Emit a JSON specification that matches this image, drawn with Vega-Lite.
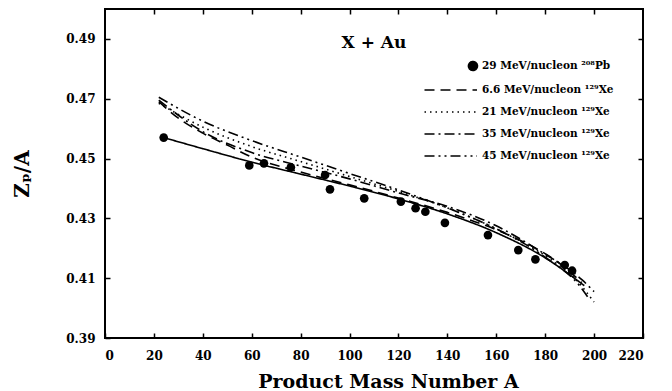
{
  "$schema": "https://vega.github.io/schema/vega-lite/v6.json",
  "width": 538,
  "height": 329,
  "autosize": {"type": "none"},
  "padding": {"left": 105, "top": 9, "right": 29, "bottom": 53},
  "background": "white",
  "title": {"text": "X + Au", "anchor": "middle", "orient": "top", "frame": "group", "baseline": "middle", "offset": -28, "dy": 24, "font": "DejaVu Serif", "fontSize": 17, "fontWeight": "bold", "color": "black"},
  "config": {
    "view": {"stroke": "black", "strokeWidth": 2},
    "axis": {"labelFont": "DejaVu Serif", "labelFontWeight": "bold", "labelFontSize": 12, "labelColor": "black", "titleFont": "DejaVu Serif", "titleFontWeight": "bold", "titleColor": "black", "domain": false, "grid": false, "ticks": true, "tickColor": "black", "tickWidth": 1.5, "tickSize": 5, "offset": -5}
  },
  "datasets": {
    "curves": [
      {"series": "29 MeV/nucleon ²⁰⁸Pb", "A": 24, "Z": 0.457},
      {"series": "29 MeV/nucleon ²⁰⁸Pb", "A": 40, "Z": 0.4533},
      {"series": "29 MeV/nucleon ²⁰⁸Pb", "A": 60, "Z": 0.4488},
      {"series": "29 MeV/nucleon ²⁰⁸Pb", "A": 80, "Z": 0.4448},
      {"series": "29 MeV/nucleon ²⁰⁸Pb", "A": 100, "Z": 0.4408},
      {"series": "29 MeV/nucleon ²⁰⁸Pb", "A": 120, "Z": 0.4365},
      {"series": "29 MeV/nucleon ²⁰⁸Pb", "A": 140, "Z": 0.4315},
      {"series": "29 MeV/nucleon ²⁰⁸Pb", "A": 160, "Z": 0.4252},
      {"series": "29 MeV/nucleon ²⁰⁸Pb", "A": 180, "Z": 0.4168},
      {"series": "29 MeV/nucleon ²⁰⁸Pb", "A": 196, "Z": 0.4075},
      {"series": "6.6 MeV/nucleon ¹²⁹Xe", "A": 22, "Z": 0.469},
      {"series": "6.6 MeV/nucleon ¹²⁹Xe", "A": 30, "Z": 0.4635},
      {"series": "6.6 MeV/nucleon ¹²⁹Xe", "A": 40, "Z": 0.4585},
      {"series": "6.6 MeV/nucleon ¹²⁹Xe", "A": 50, "Z": 0.4545},
      {"series": "6.6 MeV/nucleon ¹²⁹Xe", "A": 60, "Z": 0.4505},
      {"series": "6.6 MeV/nucleon ¹²⁹Xe", "A": 80, "Z": 0.4455},
      {"series": "6.6 MeV/nucleon ¹²⁹Xe", "A": 100, "Z": 0.4412},
      {"series": "6.6 MeV/nucleon ¹²⁹Xe", "A": 120, "Z": 0.4368},
      {"series": "6.6 MeV/nucleon ¹²⁹Xe", "A": 140, "Z": 0.432},
      {"series": "6.6 MeV/nucleon ¹²⁹Xe", "A": 160, "Z": 0.4262},
      {"series": "6.6 MeV/nucleon ¹²⁹Xe", "A": 175, "Z": 0.4205},
      {"series": "6.6 MeV/nucleon ¹²⁹Xe", "A": 185, "Z": 0.4155},
      {"series": "6.6 MeV/nucleon ¹²⁹Xe", "A": 195, "Z": 0.4085},
      {"series": "21 MeV/nucleon ¹²⁹Xe", "A": 22, "Z": 0.4685},
      {"series": "21 MeV/nucleon ¹²⁹Xe", "A": 40, "Z": 0.4605},
      {"series": "21 MeV/nucleon ¹²⁹Xe", "A": 60, "Z": 0.454},
      {"series": "21 MeV/nucleon ¹²⁹Xe", "A": 80, "Z": 0.449},
      {"series": "21 MeV/nucleon ¹²⁹Xe", "A": 100, "Z": 0.444},
      {"series": "21 MeV/nucleon ¹²⁹Xe", "A": 120, "Z": 0.439},
      {"series": "21 MeV/nucleon ¹²⁹Xe", "A": 140, "Z": 0.4335},
      {"series": "21 MeV/nucleon ¹²⁹Xe", "A": 160, "Z": 0.4265},
      {"series": "21 MeV/nucleon ¹²⁹Xe", "A": 180, "Z": 0.4175},
      {"series": "21 MeV/nucleon ¹²⁹Xe", "A": 192, "Z": 0.41},
      {"series": "21 MeV/nucleon ¹²⁹Xe", "A": 200, "Z": 0.402},
      {"series": "35 MeV/nucleon ¹²⁹Xe", "A": 22, "Z": 0.4695},
      {"series": "35 MeV/nucleon ¹²⁹Xe", "A": 40, "Z": 0.459},
      {"series": "35 MeV/nucleon ¹²⁹Xe", "A": 60, "Z": 0.452},
      {"series": "35 MeV/nucleon ¹²⁹Xe", "A": 80, "Z": 0.4475},
      {"series": "35 MeV/nucleon ¹²⁹Xe", "A": 100, "Z": 0.4432},
      {"series": "35 MeV/nucleon ¹²⁹Xe", "A": 120, "Z": 0.4385},
      {"series": "35 MeV/nucleon ¹²⁹Xe", "A": 140, "Z": 0.434},
      {"series": "35 MeV/nucleon ¹²⁹Xe", "A": 160, "Z": 0.4275},
      {"series": "35 MeV/nucleon ¹²⁹Xe", "A": 178, "Z": 0.419},
      {"series": "35 MeV/nucleon ¹²⁹Xe", "A": 195, "Z": 0.4095},
      {"series": "35 MeV/nucleon ¹²⁹Xe", "A": 200, "Z": 0.4055},
      {"series": "45 MeV/nucleon ¹²⁹Xe", "A": 22, "Z": 0.4705},
      {"series": "45 MeV/nucleon ¹²⁹Xe", "A": 40, "Z": 0.4625},
      {"series": "45 MeV/nucleon ¹²⁹Xe", "A": 60, "Z": 0.456},
      {"series": "45 MeV/nucleon ¹²⁹Xe", "A": 80, "Z": 0.4505},
      {"series": "45 MeV/nucleon ¹²⁹Xe", "A": 100, "Z": 0.445},
      {"series": "45 MeV/nucleon ¹²⁹Xe", "A": 120, "Z": 0.4395},
      {"series": "45 MeV/nucleon ¹²⁹Xe", "A": 140, "Z": 0.4335},
      {"series": "45 MeV/nucleon ¹²⁹Xe", "A": 160, "Z": 0.4265},
      {"series": "45 MeV/nucleon ¹²⁹Xe", "A": 180, "Z": 0.417},
      {"series": "45 MeV/nucleon ¹²⁹Xe", "A": 195, "Z": 0.4065},
      {"series": "45 MeV/nucleon ¹²⁹Xe", "A": 198, "Z": 0.403}
    ],
    "points": [
      {"A": 24, "Z": 0.457},
      {"A": 59, "Z": 0.4477},
      {"A": 65, "Z": 0.4484},
      {"A": 76, "Z": 0.4471},
      {"A": 90, "Z": 0.4445},
      {"A": 92, "Z": 0.4397},
      {"A": 106, "Z": 0.4367},
      {"A": 121, "Z": 0.4356},
      {"A": 127, "Z": 0.4334},
      {"A": 131, "Z": 0.4322},
      {"A": 139, "Z": 0.4285},
      {"A": 156.6, "Z": 0.4244},
      {"A": 169, "Z": 0.4194},
      {"A": 176, "Z": 0.4163},
      {"A": 188, "Z": 0.4144},
      {"A": 191, "Z": 0.4125}
    ]
  },
  "layer": [
    {
      "data": {"name": "curves"},
      "mark": {"type": "line", "color": "black", "strokeWidth": 1.6, "interpolate": "monotone"},
      "encoding": {
        "x": {"field": "A", "type": "quantitative", "scale": {"domain": [0, 220], "nice": false, "zero": false},
              "axis": {"orient": "bottom", "values": [0,20,40,60,80,100,120,140,160,180,200,220], "labelPadding": 12, "title": "Product Mass Number A", "titleFontSize": 19, "titlePadding": 11, "titleX": 283}},
        "y": {"field": "Z", "type": "quantitative", "scale": {"domain": [0.39, 0.50], "nice": false, "zero": false},
              "axis": {"orient": "left", "values": [0.39,0.41,0.43,0.45,0.47,0.49], "format": ".2f", "labelPadding": 10, "title": "Zₚ/A", "titleFontSize": 20, "titlePadding": 33}},
        "strokeDash": {"field": "series", "type": "nominal",
          "scale": {"domain": ["29 MeV/nucleon ²⁰⁸Pb", "6.6 MeV/nucleon ¹²⁹Xe", "21 MeV/nucleon ¹²⁹Xe", "35 MeV/nucleon ¹²⁹Xe", "45 MeV/nucleon ¹²⁹Xe"],
                    "range": [[1,0],[10,6],[1.5,4],[10,4,2,4],[10,4,2,4,2,4]]},
          "legend": {"orient": "none", "legendX": 341, "legendY": 41, "title": null, "symbolSize": 900, "symbolStrokeWidth": 1.6, "symbolStrokeColor": "black",
                     "labelFont": "DejaVu Serif", "labelFontWeight": "bold", "labelFontSize": 10.5, "labelColor": "black", "rowPadding": -4.5, "labelOffset": 4,
                     "encode": {"symbols": {"update": {
                        "shape": [{"test": "datum.value === '29 MeV/nucleon ²⁰⁸Pb'", "value": "M1.03,0A0.3,0.3 0 1,1 0.43,0A0.3,0.3 0 1,1 1.03,0Z"}, {"value": "M-2.5,0H1"}],
                        "fill": [{"test": "datum.value === '29 MeV/nucleon ²⁰⁸Pb'", "value": "black"}, {"value": "transparent"}],
                        "stroke": {"value": "black"}}}}}
        }
      }
    },
    {
      "data": {"name": "points"},
      "mark": {"type": "circle", "color": "black", "opacity": 1, "size": 75},
      "encoding": {
        "x": {"field": "A", "type": "quantitative", "scale": {"domain": [0, 220], "nice": false, "zero": false},
              "axis": {"orient": "top", "values": [20,40,60,80,100,120,140,160,180,200], "labels": false, "title": null}},
        "y": {"field": "Z", "type": "quantitative", "scale": {"domain": [0.39, 0.50], "nice": false, "zero": false},
              "axis": {"orient": "right", "values": [0.41,0.43,0.45,0.47,0.49], "labels": false, "title": null}}
      }
    }
  ],
  "resolve": {"axis": {"x": "independent", "y": "independent"}}
}
